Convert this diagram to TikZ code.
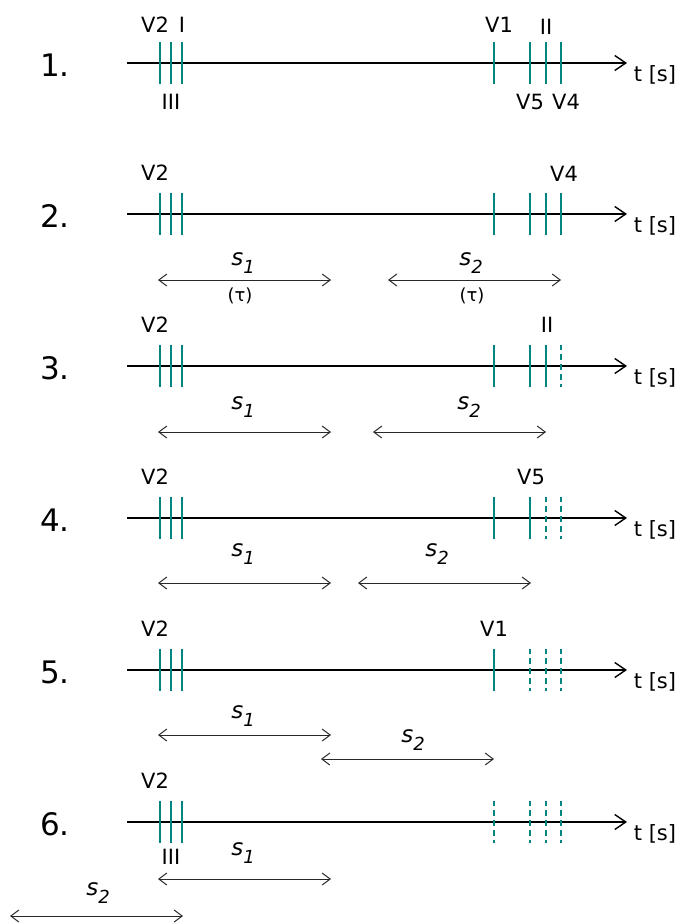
\documentclass[tikz,border=0pt]{standalone}
\usepackage{fontspec}
\setmainfont{DejaVu Sans}
\usetikzlibrary{arrows.meta}
\definecolor{tickteal}{RGB}{0,133,128}
\definecolor{dimgray}{RGB}{40,40,40}
\newcommand{\sv}[1]{{\itshape s}\raisebox{-0.35em}{\fontsize{18}{18}\selectfont\itshape #1}}
\begin{document}
\begin{tikzpicture}[x=1pt,y=-1pt,
  axis/.style={line width=1.7pt,-{Straight Barb[length=11pt,width=15pt,line width=1.4pt]}},
  tick/.style={draw=tickteal,line width=2.5pt},
  dtick/.style={draw=tickteal,line width=2.5pt,dash pattern=on 6pt off 4pt,dash phase=1pt},
  dim/.style={draw=dimgray,line width=1pt,{Straight Barb[length=8pt,width=12pt,line width=1pt]}-{Straight Barb[length=8pt,width=12pt,line width=1pt]}},
  lbl/.style={inner sep=0pt,font=\fontsize{21}{25}\selectfont},
  num/.style={inner sep=0pt,font=\fontsize{31}{37}\selectfont},
  slbl/.style={inner sep=0pt,font=\fontsize{23}{27}\selectfont},
  tau/.style={inner sep=0pt,font=\fontsize{18}{21}\selectfont}]
\useasboundingbox (0,0) rectangle (679,923);

% timelines: axis, solid and dashed ticks
\foreach \r/\y in {1/63,2/214,3/366,4/518,5/670,6/822}{
  \coordinate (s\r) at (127,\y);
  \coordinate (e\r) at (627,\y);
  \draw[axis] (s\r) -- (e\r);
  \node[num] (n\r) at (55,\y+2) {\r.};
  \node[lbl] (t\r) at (655,\y+12) {t [s]};
  \foreach \x in {160,171,182}
    \draw[tick] (\x,\y-21) -- (\x,\y+21);
}
% right-hand ticks: solid
\foreach \r/\y/\xs in {1/63/{494,530,546,561},2/214/{494,530,546,561},3/366/{494,530,546},4/518/{494,530},5/670/{494}}{
  \foreach \x in \xs
    \draw[tick] (\x,\y-21) -- (\x,\y+21);
}
% right-hand ticks: dashed
\foreach \r/\y/\xs in {3/366/{561},4/518/{546,561},5/670/{530,546,561},6/822/{494,530,546,561}}{
  \foreach \x in \xs
    \draw[dtick] (\x,\y-21) -- (\x,\y+21);
}

% labels of row 1
\node[lbl] (v2a) at (155,25) {V2};
\node[lbl] (ia) at (182,25) {I};
\node[lbl] (iiia) at (171,102) {III};
\node[lbl] (v1a) at (499,25) {V1};
\node[lbl] (iia) at (546,27) {II};
\node[lbl] (v5a) at (530,102) {V5};
\node[lbl] (v4a) at (566,102) {V4};

% row 2
\node[lbl] (v2b) at (155,173) {V2};
\node[lbl] (v4b) at (564,174) {V4};
\coordinate (d2a) at (158,280); \coordinate (d2b) at (331,280);
\coordinate (d2c) at (388,280); \coordinate (d2d) at (561,280);
\draw[dim] (d2a) -- (d2b);
\draw[dim] (d2c) -- (d2d);
\node[slbl] (s1b) at (243,263) {\sv{1}};
\node[tau] (tau1) at (240,296) {(τ)};
\node[slbl] (s2b) at (471,263) {\sv{2}};
\node[tau] (tau2) at (472,296) {(τ)};

% row 3
\node[lbl] (v2c) at (155,325) {V2};
\node[lbl] (iic) at (547,325) {II};
\coordinate (d3a) at (158,432); \coordinate (d3b) at (331,432);
\coordinate (d3c) at (373,432); \coordinate (d3d) at (546,432);
\draw[dim] (d3a) -- (d3b);
\draw[dim] (d3c) -- (d3d);
\node[slbl] (s1c) at (243,407) {\sv{1}};
\node[slbl] (s2c) at (469,407) {\sv{2}};

% row 4
\node[lbl] (v2d) at (155,477) {V2};
\node[lbl] (v5d) at (531,477) {V5};
\coordinate (d4a) at (158,583); \coordinate (d4b) at (331,583);
\coordinate (d4c) at (358,583); \coordinate (d4d) at (531,583);
\draw[dim] (d4a) -- (d4b);
\draw[dim] (d4c) -- (d4d);
\node[slbl] (s1d) at (243,554) {\sv{1}};
\node[slbl] (s2d) at (437,554) {\sv{2}};

% row 5
\node[lbl] (v2e) at (155,629) {V2};
\node[lbl] (v1e) at (494,629) {V1};
\coordinate (d5a) at (158,735); \coordinate (d5b) at (331,735);
\coordinate (d5c) at (321,759); \coordinate (d5d) at (494,759);
\draw[dim] (d5a) -- (d5b);
\draw[dim] (d5c) -- (d5d);
\node[slbl] (s1e) at (243,716) {\sv{1}};
\node[slbl] (s2e) at (413,740) {\sv{2}};

% row 6
\node[lbl] (v2f) at (155,781) {V2};
\node[lbl] (iiif) at (171,857) {III};
\coordinate (d6a) at (158,879); \coordinate (d6b) at (331,879);
\coordinate (d6c) at (10,916); \coordinate (d6d) at (183,916);
\draw[dim] (d6a) -- (d6b);
\draw[dim] (d6c) -- (d6d);
\node[slbl] (s1f) at (243,853) {\sv{1}};
\node[slbl] (s2f) at (98,893) {\sv{2}};
\end{tikzpicture}
\end{document}
